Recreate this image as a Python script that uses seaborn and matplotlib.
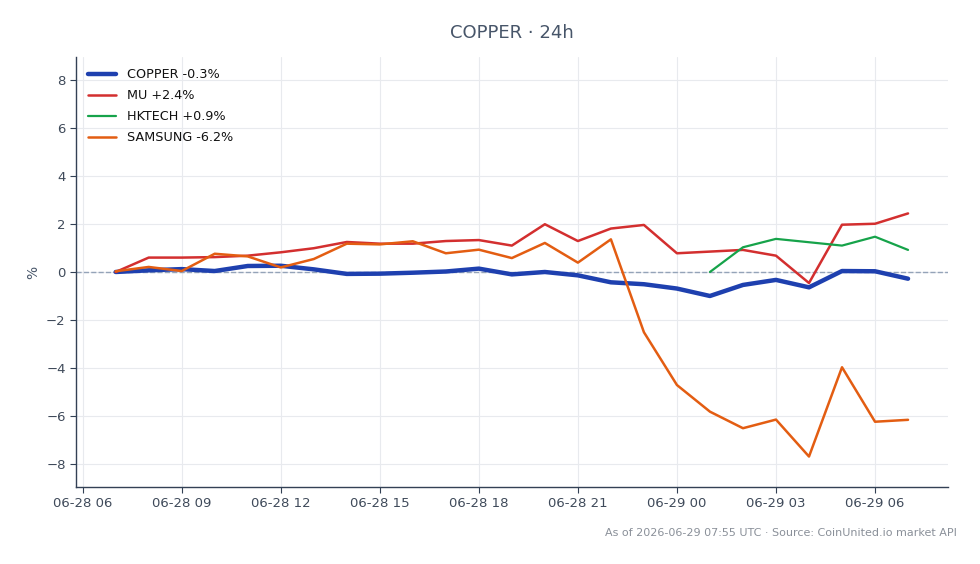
import seaborn as sns
import matplotlib.pyplot as plt
import matplotlib.dates as mdates
import pandas as pd
import numpy as np

# hourly points, 06-28 07:00 -> 06-29 07:00
times = pd.date_range("2026-06-28 07:00", periods=25, freq="h")

copper = [0.0, 0.07, 0.12, 0.04, 0.25, 0.26, 0.11, -0.08, -0.07, -0.03, 0.02, 0.14, -0.1,
          0.0, -0.14, -0.43, -0.51, -0.69, -1.0, -0.54, -0.33, -0.64, 0.04, 0.03, -0.28]
mu = [0.0, 0.6, 0.6, 0.62, 0.68, 0.82, 0.99, 1.25, 1.18, 1.18, 1.29, 1.33, 1.1,
      1.99, 1.29, 1.81, 1.96, 0.78, 0.85, 0.92, 0.68, -0.46, 1.97, 2.01, 2.44]
hktech = [np.nan] * 18 + [0.0, 1.03, 1.38, 1.24, 1.1, 1.47, 0.92]
samsung = [0.03, 0.21, 0.04, 0.76, 0.65, 0.19, 0.54, 1.18, 1.15, 1.28, 0.78, 0.93, 0.58,
           1.21, 0.39, 1.36, -2.51, -4.71, -5.82, -6.51, -6.15, -7.69, -3.97, -6.24, -6.16]

series = [("COPPER", copper, "#1e40af", 3.2),
          ("MU", mu, "#d32f2f", 1.8),
          ("HKTECH", hktech, "#16a34a", 1.6),
          ("SAMSUNG", samsung, "#e35d12", 1.8)]

sns.set_theme(style="white")
plt.rcParams['font.family'] = ['DejaVu Sans']

fig, ax = plt.subplots(figsize=(9.8, 5.64), dpi=100)
plt.subplots_adjust(left=0.0776, right=0.967, top=0.899, bottom=0.1365)

for name, vals, col, lw in series:
    df = pd.DataFrame({"time": times, "value": vals}).dropna()
    sns.lineplot(data=df, x="time", y="value", color=col, linewidth=lw, ax=ax,
                 label=f"{name} {vals[-1]:+.1f}%", zorder=3)

# zero reference
ax.axhline(0, color="#94a3b8", linestyle="--", linewidth=1, zorder=2)

ax.set_ylim(-8.96, 8.96)
ax.set_yticks([-8, -6, -4, -2, 0, 2, 4, 6, 8])
ax.xaxis.set_major_locator(mdates.HourLocator(byhour=range(0, 24, 3)))
ax.xaxis.set_major_formatter(mdates.DateFormatter("%m-%d %H"))

ax.grid(True, color="#e8eaee", linewidth=0.8, zorder=0)
ax.set_axisbelow(True)
for s in ["top", "right"]:
    ax.spines[s].set_visible(False)
for s in ["left", "bottom"]:
    ax.spines[s].set_color("#334155")
    ax.spines[s].set_linewidth(1)
ax.tick_params(axis="both", colors="#334155", labelcolor="#3f4a5a", labelsize=9.5,
               length=4, width=0.8, left=True, bottom=True)

ax.set_xlabel("")
ax.set_ylabel("%", color="#475569", fontsize=10)
ax.set_title("COPPER · 24h", color="#475569", fontsize=13, pad=14)

leg = ax.legend(loc="upper left", frameon=False, fontsize=9.2, handlelength=2.2,
                handletextpad=0.9, labelspacing=0.62, borderaxespad=0.5)
for t in leg.get_texts():
    t.set_color("#111111")

fig.text(0.976, 0.055, "As of 2026-06-29 07:55 UTC · Source: CoinUnited.io market API",
         ha="right", va="center", fontsize=8, color="#8a9099")

plt.savefig("out.png", dpi=100)
